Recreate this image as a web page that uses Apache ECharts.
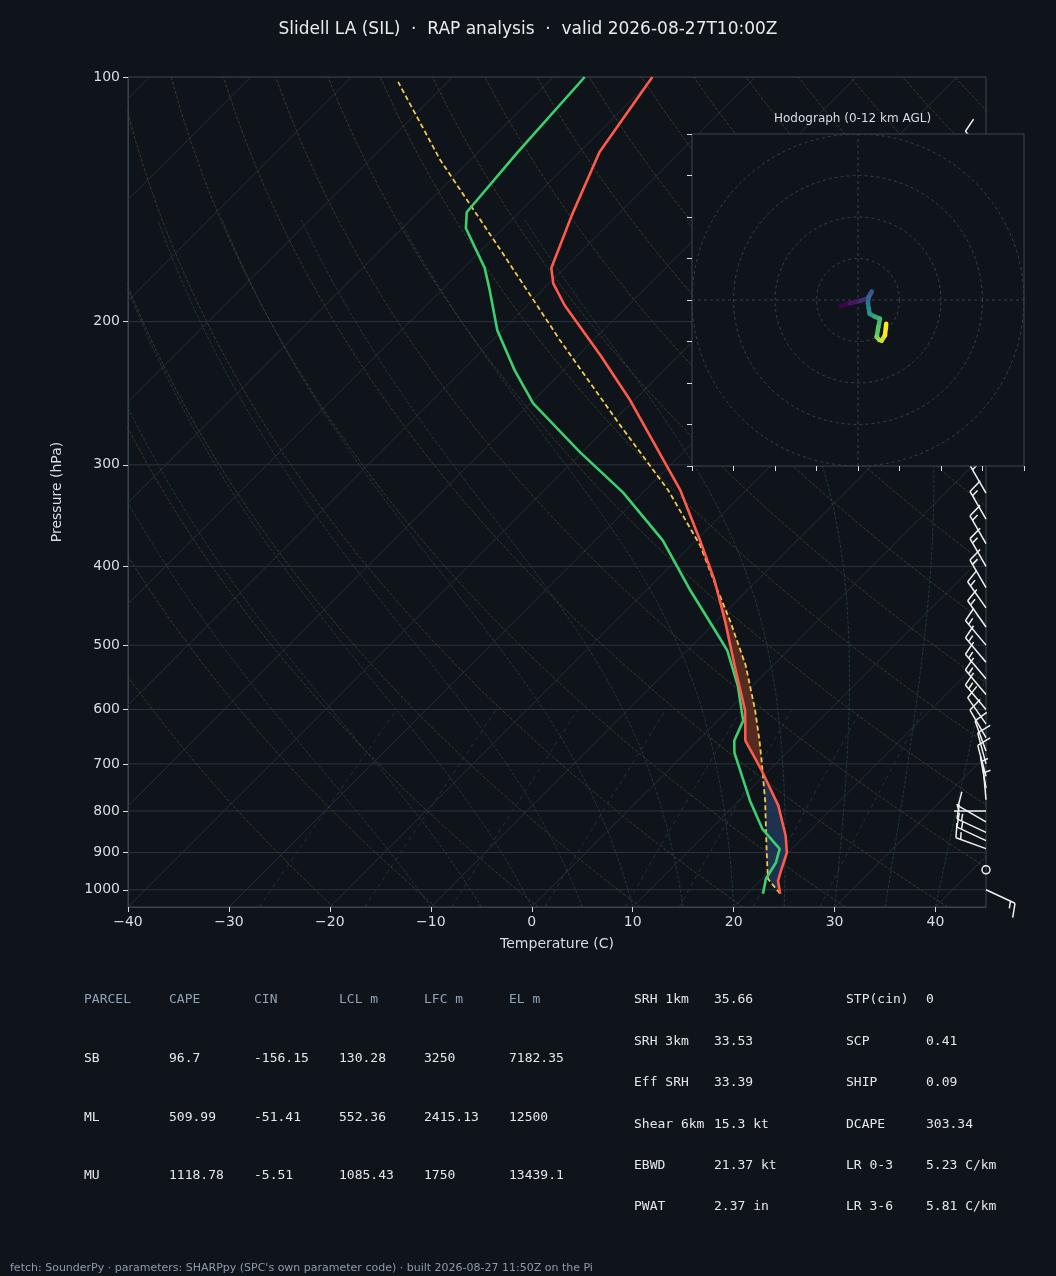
<!DOCTYPE html>
<html lang="en">
<head>
<meta charset="UTF-8">
<title>Slidell LA sounding</title>
<script src="https://cdn.jsdelivr.net/npm/echarts@6/dist/echarts.min.js"></script>
<style>html,body{margin:0;background:#0f141a}</style>
</head>
<body>
<div id="main" style="width:1056px;height:1276px;"></div>
<script type="text/javascript">
// sounding profile (hPa, C)
var presT = [1011.4, 974.8, 947.5, 900.3, 858.1, 788.0, 713.7, 655.5, 602.0, 529.8, 466.5, 416.4, 371.7, 322.6, 249.9, 220.0, 190.9, 179.4, 171.8, 147.9, 123.7, 100];
var tempC = [23.3, 21.8, 21.1, 19.9, 18.1, 14.4, 9.3, 4.7, 1.7, -3.8, -9.2, -14.2, -19.6, -26.5, -40.4, -47.8, -56.3, -59.6, -61.3, -64.5, -68.0, -70.2];
var presTd = [1011.4, 969.3, 926.3, 890.4, 841.3, 777.0, 678.1, 655.5, 619.3, 560.8, 507.8, 479.7, 428.4, 371.7, 324.4, 289.6, 252.1, 229.6, 204.9, 183.0, 171.8, 153.5, 146.7, 123.7, 100];
var dewC = [21.6, 20.4, 19.8, 18.8, 15.1, 11.1, 4.8, 3.6, 2.5, -1.5, -6.0, -9.2, -15.6, -23.3, -32.0, -40.2, -49.7, -54.8, -60.5, -65.2, -67.9, -73.7, -75.2, -76.1, -76.9];
var presPcl = [1011.4, 969.3, 895.3, 777.0, 693.9, 655.5, 602.0, 529.8, 466.5, 428.4, 377.0, 322.6, 268.3, 210.8, 163.3, 126.5, 101.4];
var parcelC = [23.3, 20.6, 17.7, 12.6, 8.3, 6.1, 2.7, -2.7, -8.7, -12.9, -19.1, -27.7, -38.9, -53.3, -68.1, -83.0, -94.9];
// wind barbs: hPa, direction from (deg), speed (kt)
var barbP = [125, 325, 350, 375, 400, 425, 450, 475, 500, 525, 550, 575, 600, 625, 650, 675, 700, 725, 750, 775, 800, 825, 850, 870, 890, 945, 1000];
var barbDir = [320, 330, 330, 330, 330, 330, 325, 325, 320, 320, 320, 320, 320, 325, 330, 340, 345, 345, 350, 355, 270, 300, 295, 295, 290, 0, 115];
var barbSpd = [10, 15, 15, 15, 15, 15, 15, 15, 15, 15, 15, 15, 15, 10, 10, 10, 10, 10, 5, 5, 5, 10, 15, 15, 15, 0, 15];
// hodograph (kt)
var hodoU = [-4.1, -2.0, 0.5, 2.4, 3.3, 2.6, 2.4, 2.6, 2.8, 4.0, 5.3, 4.9, 4.5, 5.1, 5.7, 6.5, 6.8];
var hodoV = [-1.4, -0.8, -0.2, 0.4, 2.0, 0.8, -0.8, -2.0, -3.3, -4.0, -4.5, -6.5, -8.9, -9.6, -9.8, -8.5, -5.7];
var presLabels = [100, 200, 300, 400, 500, 600, 700, 800, 900, 1000];

var K = 80.44;
function pt(t, p) { return [t + K * Math.log10(1050 / p), Math.log10(p)]; }
function prof(ps, ts) { return ps.map(function (p, i) { return pt(ts[i], p); }); }

var bgLine = '#2a3340';
var series = [];
function addBg(data, color, type, w) {
    series.push({type: 'line', data: data, showSymbol: false, silent: true, animation: false,
        lineStyle: {color: color, width: w || 0.8, type: type}, z: 1});
}
// isobars
presLabels.forEach(function (p) { addBg([[-40, Math.log10(p)], [45, Math.log10(p)]], bgLine, 'solid', 1); });
// isotherms
for (var t = -120; t <= 50; t += 10) addBg([pt(t, 1050), pt(t, 100)], '#252e3a', 'solid', 1);
// dry adiabats
for (var th = 250; th <= 480; th += 10) {
    var d = [];
    for (var p = 1050; p >= 100; p -= 10) d.push(pt(th * Math.pow(p / 1000, 0.286) - 273.15, p));
    addBg(d, '#4d4030', 'dashed', 0.8);
}
// moist adiabats
for (var t0 = -10; t0 <= 40; t0 += 5) {
    var T = t0 + 273.15, d2 = [];
    for (var p2 = 1050; p2 >= 150; p2 -= 5) {
        d2.push(pt(T - 273.15, p2));
        var es = 6.112 * Math.exp(17.67 * (T - 273.15) / (T - 29.65));
        var rs = 0.622 * es / (p2 - es);
        var dTdp = (287 * T + 2.5e6 * rs) / (p2 * (1005 + 2.5e6 * 2.5e6 * rs * 0.622 / (287 * T * T)));
        T -= dTdp * 5;
    }
    addBg(d2, '#24424d', 'dashed', 0.8);
}
// mixing ratio
[0.4, 1, 2, 4, 7, 10, 16, 24].forEach(function (w) {
    var d3 = [];
    for (var p3 = 1050; p3 >= 600; p3 -= 25) {
        var e = w * p3 / (622 + w), l = Math.log(e / 6.112);
        d3.push(pt(243.5 * l / (17.67 - l), p3));
    }
    addBg(d3, '#263a4e', [4, 4], 0.8);
});

function interp(ps, ts, p) {
    for (var i = 0; i < ps.length - 1; i++) {
        if (p <= ps[i] && p >= ps[i + 1]) {
            var f = (Math.log(p) - Math.log(ps[i])) / (Math.log(ps[i + 1]) - Math.log(ps[i]));
            return ts[i] + f * (ts[i + 1] - ts[i]);
        }
    }
    return null;
}
// CAPE / CIN shading
series.push({
    type: 'custom', clip: true, silent: true, z: 2, data: [0],
    renderItem: function (params, api) {
        var kids = [], seg = null, sign = 0;
        function flush() {
            if (seg && seg.a.length > 1) {
                kids.push({type: 'polygon', shape: {points: seg.a.concat(seg.b.reverse())},
                    style: {fill: sign > 0 ? 'rgba(110,50,35,0.75)' : 'rgba(34,56,92,0.8)'}});
            }
            seg = null;
        }
        for (var p = 1011; p >= 420; p -= 2) {
            var tt = interp(presT, tempC, p), tp = interp(presPcl, parcelC, p);
            var s = tp > tt ? 1 : -1;
            if (s !== sign) { flush(); sign = s; }
            if (!seg) seg = {a: [], b: []};
            seg.a.push(api.coord(pt(tt, p)));
            seg.b.push(api.coord(pt(tp, p)));
        }
        flush();
        return {type: 'group', children: kids};
    }
});
series.push({type: 'line', data: prof(presPcl, parcelC), showSymbol: false, z: 3,
    lineStyle: {color: '#f2c94c', width: 1.8, type: [5, 3]}});
series.push({type: 'line', data: prof(presTd, dewC), showSymbol: false, z: 4,
    lineStyle: {color: '#3ccf6e', width: 2.6}});
series.push({type: 'line', data: prof(presT, tempC), showSymbol: false, z: 4,
    lineStyle: {color: '#ff5a4a', width: 2.6}});
// wind barbs
series.push({
    type: 'custom', clip: false, silent: true, z: 5,
    data: barbP.map(function (p, i) { return [45, Math.log10(p), barbDir[i], barbSpd[i]]; }),
    renderItem: function (params, api) {
        var b = api.coord([api.value(0), api.value(1)]), dir = api.value(2) * Math.PI / 180, spd = api.value(3);
        var st = {stroke: '#f0f0f0', lineWidth: 1.5, fill: null};
        if (spd < 2.5) return {type: 'circle', shape: {cx: b[0], cy: b[1], r: 4}, style: st};
        var sx = Math.sin(dir), sy = -Math.cos(dir), L = 32;
        var tip = [b[0] + sx * L, b[1] + sy * L], nx = -sy, ny = sx;
        var kids = [{type: 'line', shape: {x1: b[0], y1: b[1], x2: tip[0], y2: tip[1]}, style: st}];
        var n = Math.round(spd / 5), pos = 0;
        while (n >= 2) {
            var q = [tip[0] - sx * pos, tip[1] - sy * pos];
            kids.push({type: 'line', shape: {x1: q[0], y1: q[1], x2: q[0] + nx * 14 + sx * 4, y2: q[1] + ny * 14 + sy * 4}, style: st});
            n -= 2; pos += 5;
        }
        if (n === 1) {
            if (pos === 0) pos = 5;
            var q2 = [tip[0] - sx * pos, tip[1] - sy * pos];
            kids.push({type: 'line', shape: {x1: q2[0], y1: q2[1], x2: q2[0] + nx * 7 + sx * 2, y2: q2[1] + ny * 7 + sy * 2}, style: st});
        }
        return {type: 'group', children: kids};
    }
});
var nMain = series.length;
// hodograph
function ring(r) {
    var d = [];
    for (var a = 0; a <= 360; a += 4) d.push([r * Math.cos(a * Math.PI / 180), r * Math.sin(a * Math.PI / 180)]);
    return d;
}
var hodoGrid = {color: '#3a4452', width: 0.9, type: [3, 3]};
[10, 20, 30, 40].forEach(function (r) {
    series.push({type: 'line', xAxisIndex: 1, yAxisIndex: 1, data: ring(r), showSymbol: false, silent: true, lineStyle: hodoGrid});
});
series.push({type: 'line', xAxisIndex: 1, yAxisIndex: 1, data: [[-40, 0], [40, 0]], showSymbol: false, silent: true, lineStyle: hodoGrid});
series.push({type: 'line', xAxisIndex: 1, yAxisIndex: 1, data: [[0, -40], [0, 40]], showSymbol: false, silent: true, lineStyle: hodoGrid});
var viridis = [[68, 1, 84], [59, 82, 139], [33, 145, 140], [94, 201, 98], [253, 231, 37]];
function vcol(f) {
    var x = f * (viridis.length - 1), i = Math.min(Math.floor(x), viridis.length - 2), r = x - i;
    var c = viridis[i].map(function (v, k) { return Math.round(v + r * (viridis[i + 1][k] - v)); });
    return 'rgb(' + c.join(',') + ')';
}
for (var h = 0; h < hodoU.length - 1; h++) {
    series.push({type: 'line', xAxisIndex: 1, yAxisIndex: 1, showSymbol: false, z: 6,
        data: [[hodoU[h], hodoV[h]], [hodoU[h + 1], hodoV[h + 1]]],
        lineStyle: {width: 4.5, color: vcol(h / (hodoU.length - 2)), cap: 'round'}});
}

var axisTxt = {color: '#d8dde3', fontSize: 14, fontFamily: 'DejaVu Sans'};
var chart = echarts.init(document.getElementById('main'));
chart.setOption({
    backgroundColor: '#0f141a',
    animation: false,
    title: {text: 'Slidell LA (SIL)  \u00b7  RAP analysis  \u00b7  valid 2026-08-27T10:00Z', left: 'center', top: 16,
        textStyle: {color: '#e8ebee', fontSize: 17, fontWeight: 'normal', fontFamily: 'DejaVu Sans'}},
    grid: [
        {left: 128, top: 77, width: 858, height: 830, show: true, borderColor: '#3a4450', backgroundColor: 'transparent'},
        {left: 692, top: 134, width: 332, height: 332, show: true, borderColor: '#3a4450', backgroundColor: '#0f141a', z: 10}
    ],
    xAxis: [
        {type: 'value', gridIndex: 0, min: -40, max: 45, interval: 10, splitLine: {show: false},
            name: 'Temperature (C)', nameLocation: 'middle', nameGap: 30, nameTextStyle: axisTxt,
            axisLine: {onZero: false, lineStyle: {color: '#3a4450'}}, axisTick: {lineStyle: {color: '#d8dde3'}, length: 5},
            axisLabel: Object.assign({formatter: function (v) { return v < 0 ? '\u2212' + (-v) : '' + v; }, showMaxLabel: false}, axisTxt)},
        {type: 'value', gridIndex: 1, min: -40, max: 40, interval: 10, splitLine: {show: false}, z: 10, position: 'bottom',
            axisLine: {show: false, onZero: false}, axisLabel: {show: false}, axisTick: {lineStyle: {color: '#d8dde3'}, length: 5}}
    ],
    yAxis: [
        {type: 'value', gridIndex: 0, inverse: true, min: 2, max: Math.log10(1050), splitLine: {show: false},
            name: 'Pressure (hPa)', nameLocation: 'middle', nameGap: 64, nameRotate: 90, nameTextStyle: axisTxt,
            axisLine: {show: true, onZero: false, lineStyle: {color: '#3a4450'}},
            axisTick: {show: true, customValues: presLabels.map(Math.log10), lineStyle: {color: '#d8dde3'}, length: 5},
            axisLabel: Object.assign({customValues: presLabels.map(Math.log10),
                formatter: function (v) { return '' + Math.round(Math.pow(10, v)); }}, axisTxt)},
        {type: 'value', gridIndex: 1, min: -40, max: 40, interval: 10, splitLine: {show: false}, z: 10, position: 'left',
            axisLine: {show: false, onZero: false}, axisLabel: {show: false}, axisTick: {lineStyle: {color: '#d8dde3'}, length: 5}}
    ],
    series: series.map(function (s, i) { if (i >= nMain) s.z = (s.z || 2) + 10; return s; }),
    graphic: [
        {type: 'text', left: 774, top: 113, style: {text: 'Hodograph (0-12 km AGL)', fill: '#d8dde3', fontSize: 12, fontFamily: 'DejaVu Sans'}, z: 20},
        {type: 'text', left: 10, top: 1263, style: {text: "fetch: SounderPy \u00b7 parameters: SHARPpy (SPC's own parameter code) \u00b7 built 2026-08-27 11:50Z on the Pi", fill: '#8a9bb0', fontSize: 11, fontFamily: 'DejaVu Sans'}}
    ]
});

// parameter tables
var parcelHead = ['PARCEL', 'CAPE', 'CIN', 'LCL m', 'LFC m', 'EL m'];
var parcelRows = [
    ['SB', '96.7', '-156.15', '130.28', '3250', '7182.35'],
    ['ML', '509.99', '-51.41', '552.36', '2415.13', '12500'],
    ['MU', '1118.78', '-5.51', '1085.43', '1750', '13439.1']
];
var kinNames = ['SRH 1km', 'SRH 3km', 'Eff SRH', 'Shear 6km', 'EBWD', 'PWAT'];
var kinVals = ['35.66', '33.53', '33.39', '15.3 kt', '21.37 kt', '2.37 in'];
var thermNames = ['STP(cin)', 'SCP', 'SHIP', 'DCAPE', 'LR 0-3', 'LR 3-6'];
var thermVals = ['0', '0.41', '0.09', '303.34', '5.23 C/km', '5.81 C/km'];

var g = [];
function txt(x, y, s, c) {
    g.push({type: 'text', x: x, y: y, style: {text: s, fill: c, fontSize: 13, fontFamily: 'DejaVu Sans Mono', verticalAlign: 'middle'}});
}
parcelHead.forEach(function (h, j) { txt(84 + 85 * j, 1000, h, '#8ea2b8'); });
parcelRows.forEach(function (r, i) { r.forEach(function (v, j) { txt(84 + 85 * j, 1059 + 58.5 * i, v, '#e4e7ea'); }); });
kinNames.forEach(function (n, i) {
    var y = 1000 + 41.4 * i;
    txt(634, y, n, '#e4e7ea'); txt(714, y, kinVals[i], '#e4e7ea');
    txt(846, y, thermNames[i], '#e4e7ea'); txt(926, y, thermVals[i], '#e4e7ea');
});
chart.setOption({graphic: chart.getOption().graphic[0].elements.concat(g)});
</script>
</body>
</html>
